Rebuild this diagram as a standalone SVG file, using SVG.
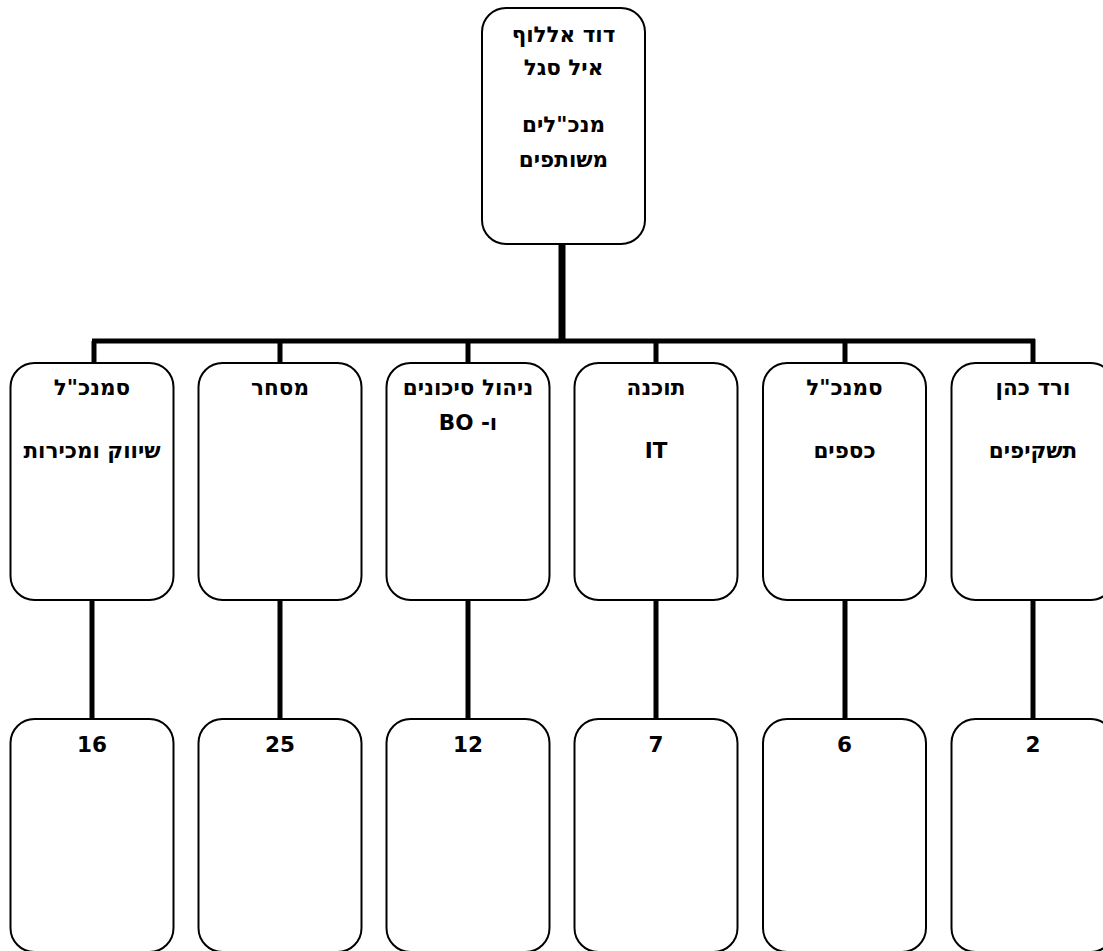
<svg xmlns="http://www.w3.org/2000/svg" width="1103" height="951" viewBox="0 0 1103 951">
<style>
.box{fill:#fff;stroke:#000;stroke-width:2}
.t{font-family:"DejaVu Sans","Liberation Sans",sans-serif;font-weight:bold;font-size:21.5px;fill:#000;text-anchor:middle;direction:rtl}
.c{stroke:#000;fill:none;stroke-width:5}
</style>
<rect width="1103" height="951" fill="#fff"/>
<g id="connectors">
<line class="c" x1="562" y1="244" x2="562" y2="341" style="stroke-width:7"/>
<line class="c" x1="92" y1="341" x2="1035" y2="341"/>
<line class="c" x1="94" y1="341" x2="94" y2="363"/>
<line class="c" x1="280" y1="341" x2="280" y2="363"/>
<line class="c" x1="468" y1="341" x2="468" y2="363"/>
<line class="c" x1="656" y1="341" x2="656" y2="363"/>
<line class="c" x1="845" y1="341" x2="845" y2="363"/>
<line class="c" x1="1033" y1="339" x2="1033" y2="363"/>
<line class="c" x1="92" y1="600" x2="92" y2="719"/>
<line class="c" x1="280" y1="600" x2="280" y2="719"/>
<line class="c" x1="468" y1="600" x2="468" y2="719"/>
<line class="c" x1="656" y1="600" x2="656" y2="719"/>
<line class="c" x1="845" y1="600" x2="845" y2="719"/>
<line class="c" x1="1033" y1="600" x2="1033" y2="719"/>
</g>
<g id="top">
<rect class="box" x="482" y="8" width="163" height="236" rx="24"/>
<text class="t" x="563.5" y="42">דוד אללוף</text>
<text class="t" x="563.5" y="75">איל סגל</text>
<text class="t" x="563.5" y="132">מנכ"לים</text>
<text class="t" x="563.5" y="167">משותפים</text>
</g>
<g id="n1">
<rect class="box" x="10.5" y="363" width="163" height="237" rx="24"/>
<text class="t" x="92" y="395">סמנכ"ל</text>
<text class="t" x="92" y="458">שיווק ומכירות</text>
</g>
<g id="n2">
<rect class="box" x="198.5" y="363" width="163" height="237" rx="24"/>
<text class="t" x="280" y="395">מסחר</text>
</g>
<g id="n3">
<rect class="box" x="386.5" y="363" width="163" height="237" rx="24"/>
<text class="t" x="468" y="395">ניהול סיכונים</text>
<text class="t" x="468" y="430">ו- BO</text>
</g>
<g id="n4">
<rect class="box" x="574.5" y="363" width="163" height="237" rx="24"/>
<text class="t" x="656" y="395">תוכנה</text>
<text class="t" x="656" y="458">IT</text>
</g>
<g id="n5">
<rect class="box" x="763" y="363" width="163" height="237" rx="24"/>
<text class="t" x="844.5" y="395">סמנכ"ל</text>
<text class="t" x="844.5" y="458">כספים</text>
</g>
<g id="n6">
<rect class="box" x="951.5" y="363" width="163" height="237" rx="24"/>
<text class="t" x="1033" y="395">ורד כהן</text>
<text class="t" x="1033" y="458">תשקיפים</text>
</g>
<g id="b1">
<rect class="box" x="10.5" y="719" width="163" height="233" rx="24"/>
<text class="t" x="92" y="752">16</text>
</g>
<g id="b2">
<rect class="box" x="198.5" y="719" width="163" height="233" rx="24"/>
<text class="t" x="280" y="752">25</text>
</g>
<g id="b3">
<rect class="box" x="386.5" y="719" width="163" height="233" rx="24"/>
<text class="t" x="468" y="752">12</text>
</g>
<g id="b4">
<rect class="box" x="574.5" y="719" width="163" height="233" rx="24"/>
<text class="t" x="656" y="752">7</text>
</g>
<g id="b5">
<rect class="box" x="763" y="719" width="163" height="233" rx="24"/>
<text class="t" x="844.5" y="752">6</text>
</g>
<g id="b6">
<rect class="box" x="951.5" y="719" width="163" height="233" rx="24"/>
<text class="t" x="1033" y="752">2</text>
</g>
</svg>
